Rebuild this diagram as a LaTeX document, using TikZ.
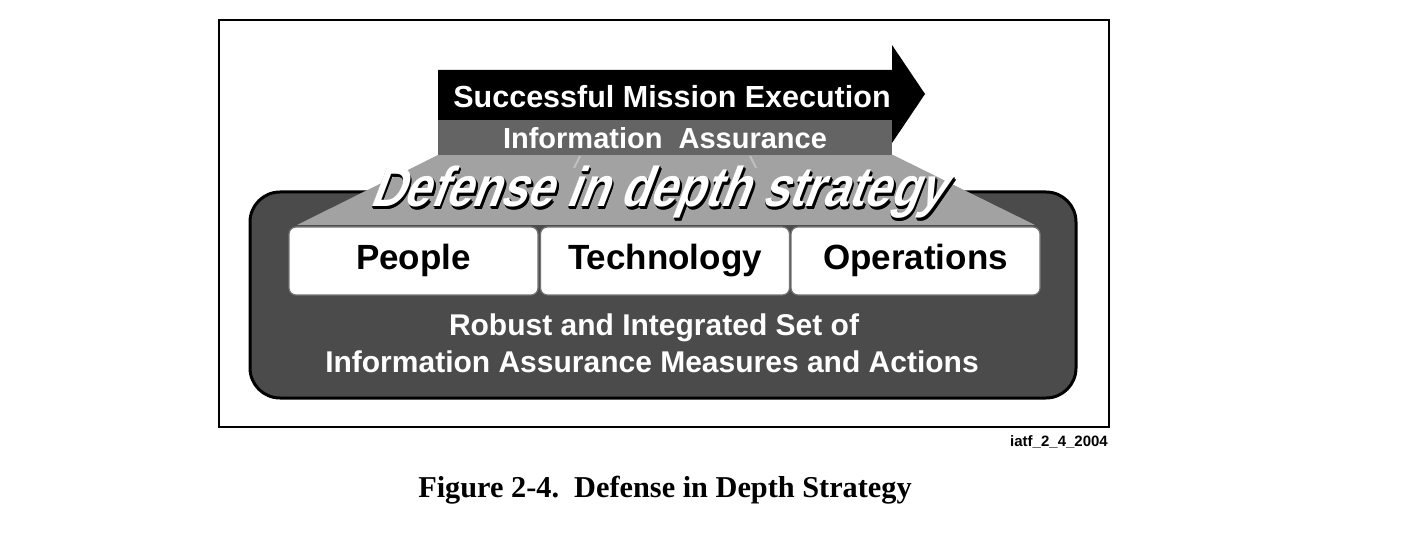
\documentclass[tikz,border=0pt]{standalone}
\usepackage{fontspec}
\setmainfont{Liberation Sans}
\newfontfamily\capfont{Liberation Serif}
\newcommand\pxsize[1]{\fontsize{#1}{#1}\selectfont}
\definecolor{trapgray}{HTML}{A2A2A2}
\definecolor{bandgray}{HTML}{646464}
\definecolor{basegray}{HTML}{4B4B4B}
\begin{document}
\begin{tikzpicture}[x=1pt,y=-1pt,
  pillar/.style={draw=black!55, line width=1.2pt, fill=white, rounded corners=7pt,
    minimum width=249pt, minimum height=68pt, inner sep=0pt,
    text height=25pt, text depth=7pt,
    font=\bfseries\pxsize{35}},
  whitetext/.style={text=white, font=\bfseries\pxsize{#1}, inner sep=0pt},
  lane/.style={draw=#1, line width=2pt},
  titletext/.style={transform shape, inner sep=0pt, xscale=0.84, font=\bfseries\pxsize{56}}
]
\useasboundingbox (0,0) rectangle (1420,534);
\fill[white] (0,0) rectangle (1420,534);

% outer frame
\draw[line width=1.6pt] (219,20) rectangle (1109,427);

% dark base block
\draw[fill=basegray, line width=3pt, rounded corners=30pt] (250,192) rectangle (1076,398);

% perspective floor
\fill[trapgray] (438,155) -- (893,155) -- (1037,226) -- (295,226) -- cycle;
\draw[line width=1.2pt, black!70] (295,226) -- (1037,226);
\draw[lane=black!25] (580,156) -- (574,168);
\draw[lane=black!25] (750,156) -- (756,168);

% information assurance band and mission arrow
\fill[bandgray] (438,120) rectangle (892,155);
\fill[black] (438,70) -- (892,70) -- (892,45) -- (925,94) -- (892,143) -- (892,120) -- (438,120) -- cycle;
\node[whitetext=30.5] (mission) at (672,97) {Successful Mission Execution};
\node[whitetext=29] (ia) at (665,138) {Information\ \ Assurance};

% slanted extruded title
\begin{scope}[shift={(662,192)}, xslant=0.38]
  \foreach \d in {1,...,4}
    \node[titletext, text=black] at (\d*0.8,\d*0.9) {Defense in depth strategy};
  \node[titletext, text=white] (title) at (0,0) {Defense in depth strategy};
\end{scope}

% three pillars
\node[pillar] (people) at (413.5,261) {People};
\node[pillar] (tech) at (665,261) {Technology};
\node[pillar] (ops) at (915.5,261) {Operations};

% base caption
\node[whitetext=30] (robust1) at (654,328) {Robust and Integrated Set of};
\node[whitetext=30] (robust2) at (652,362) {Information\ Assurance Measures and Actions};

% figure id and caption
\node[anchor=east, inner sep=0pt, font=\bfseries\pxsize{15}] (fid) at (1108,442) {iatf\_2\_4\_2004};
\node[inner sep=0pt, font=\capfont\bfseries\pxsize{30.3}] (caption) at (665,490) {Figure 2-4.\ \ Defense in Depth Strategy};
\end{tikzpicture}
\end{document}
